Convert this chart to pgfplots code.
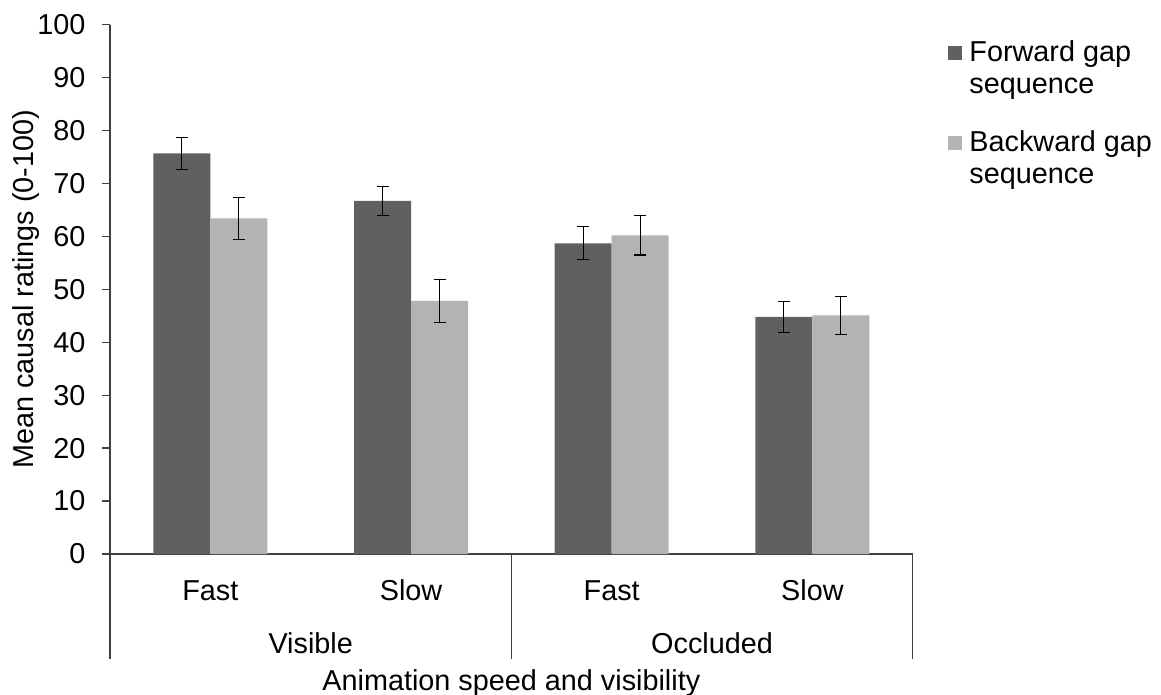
\documentclass[border=0pt]{standalone}
\usepackage{fontspec}
\setmainfont{Liberation Sans}
\usepackage{pgfplots}
\pgfplotsset{compat=1.18}
\usepackage{pgfplotstable}
\definecolor{darkbar}{RGB}{96,96,96}
\definecolor{lightbar}{RGB}{179,179,179}
\definecolor{axcol}{RGB}{64,64,64}

\pgfplotstableread{
x y e
0 75.7 3.0
1 66.7 2.8
2 58.7 3.1
3 44.8 2.95
}\forward
\pgfplotstableread{
x y e
0 63.4 4.0
1 47.8 4.1
2 60.2 3.7
3 45.1 3.6
}\backward

\begin{document}
\fontsize{14.4}{16}\selectfont
\begin{tikzpicture}[x=1pt,y=1pt]
\begin{axis}[
  name=ax,
  at={(0,0)}, anchor=south west,
  scale only axis,
  width=401.35pt, height=264.65pt,
  xmin=-0.5, xmax=3.5, ymin=0, ymax=100,
  ybar=0pt, bar width=28.5pt,
  axis lines*=left,
  axis line style={axcol, line width=0.7pt},
  xtick={0,1,2,3},
  xticklabels={Fast,Slow,Fast,Slow},
  xtick style={draw=none},
  xticklabel style={anchor=base, yshift=-19pt},
  ytick={0,10,...,100},
  tick align=outside,
  major tick length=4pt,
  ytick style={axcol, line width=0.7pt},
  yticklabel style={anchor=east, xshift=-3.3pt},
  /pgf/number format/assume math mode=true,
  tick label style={font=\fontsize{14.4}{16}\selectfont},
  label style={font=\fontsize{14.4}{16}\selectfont},
  ylabel={Mean causal ratings (0-100)},
  ylabel style={at={(axis description cs:-0.104,0.5)}, anchor=center},
  xlabel={Animation speed and visibility},
  xlabel style={at={(axis description cs:0.5,-0.257)}, anchor=base},
  clip=false,
  legend style={at={(axis description cs:1.044,0.978)}, anchor=north west,
    draw=none, fill=none, inner sep=0pt,
    cells={align=left, anchor=west},
    row sep=12.5pt,
    font=\fontsize{14.4}{16}\selectfont},
  legend image code/.code={\fill[#1,draw=none] (0pt,4.8pt) rectangle (7pt,11.8pt); \path (0pt,4.8pt) -- (8.5pt,4.8pt);},
  error bars/y dir=both,
  error bars/y explicit,
  error bars/error bar style={black, line width=0.6pt},
  error bars/error mark options={rotate=90, mark size=3pt, black, line width=0.6pt},
]
\addplot[fill=darkbar, draw=none] table[x=x, y=y, y error=e]{\forward};
\addlegendentry{Forward gap\\sequence}
\addplot[fill=lightbar, draw=none] table[x=x, y=y, y error=e]{\backward};
\addlegendentry{Backward gap\\sequence}

\draw[axcol, line width=0.7pt] (axis cs:-0.5,0) -- ([yshift=-52.6pt]axis cs:-0.5,0);
\draw[axcol, line width=0.7pt] (axis cs:1.5,0) -- ([yshift=-52.6pt]axis cs:1.5,0);
\draw[axcol, line width=0.7pt] (axis cs:3.5,0) -- ([yshift=-52.6pt]axis cs:3.5,0);
\node[anchor=base] at ([yshift=-49.5pt]axis cs:0.5,0) {Visible};
\node[anchor=base] at ([yshift=-49.5pt]axis cs:2.5,0) {Occluded};
\end{axis}
\pgfresetboundingbox
\path (-55,-70.5) rectangle (525.5,277);
\end{tikzpicture}
\end{document}
